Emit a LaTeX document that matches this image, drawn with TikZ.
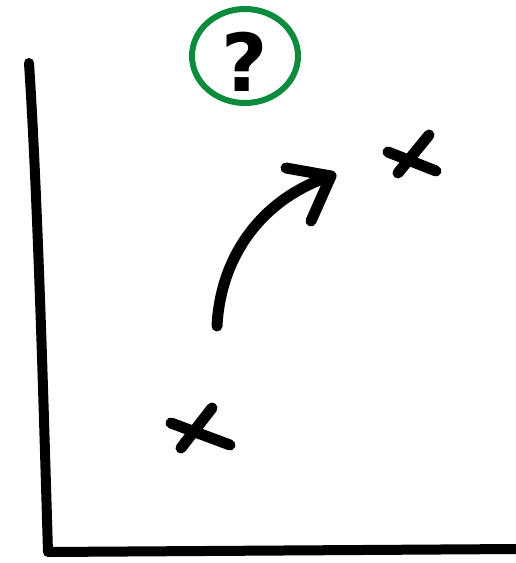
\documentclass[tikz,border=0pt]{standalone}
\usepackage{fontspec}
\newfontfamily\qfont{DejaVu Sans}
\usetikzlibrary{calc}
\definecolor{ringgreen}{RGB}{10,140,60}

\begin{document}
\begin{tikzpicture}[x=1pt,y=-1pt,
 pen/.style={line width=10pt,line cap=round,line join=round},
 q/.style={font=\qfont\bfseries\fontsize{80}{80}\selectfont,inner sep=0pt}]
\useasboundingbox (0,0) rectangle (515,563);
% axes
\coordinate (top) at (29,63);
\coordinate (origin) at (48,552);
\coordinate (xend) at (518,549);
\draw[pen] (top) .. controls (38,200) and (44,420) .. (origin) -- (xend);
% question mark in a ring
\node[q] (ask) at (245,62) {?};
\draw[ringgreen,line width=6pt] (245,56) ellipse [x radius=53,y radius=47];
% start and end points
\coordinate (a1) at (171,423); \coordinate (a2) at (230,445);
\coordinate (a3) at (212,408); \coordinate (a4) at (181,448);
\draw[pen,line width=11pt] (a1) -- (a2) (a3) -- (a4);
\coordinate (b1) at (388,152); \coordinate (b2) at (436,171);
\coordinate (b3) at (429,135); \coordinate (b4) at (398,173);
\draw[pen,line width=11pt] (b1) -- (b2) (b3) -- (b4);
% the move
\coordinate (from) at (217,326);
\coordinate (to) at (331,176);
\draw[pen,line width=11pt] (from) .. controls (221,250) and (268,196) .. (to);
\draw[pen,line width=11pt] (286,168) -- (to) -- (311,221);
\end{tikzpicture}
\end{document}
